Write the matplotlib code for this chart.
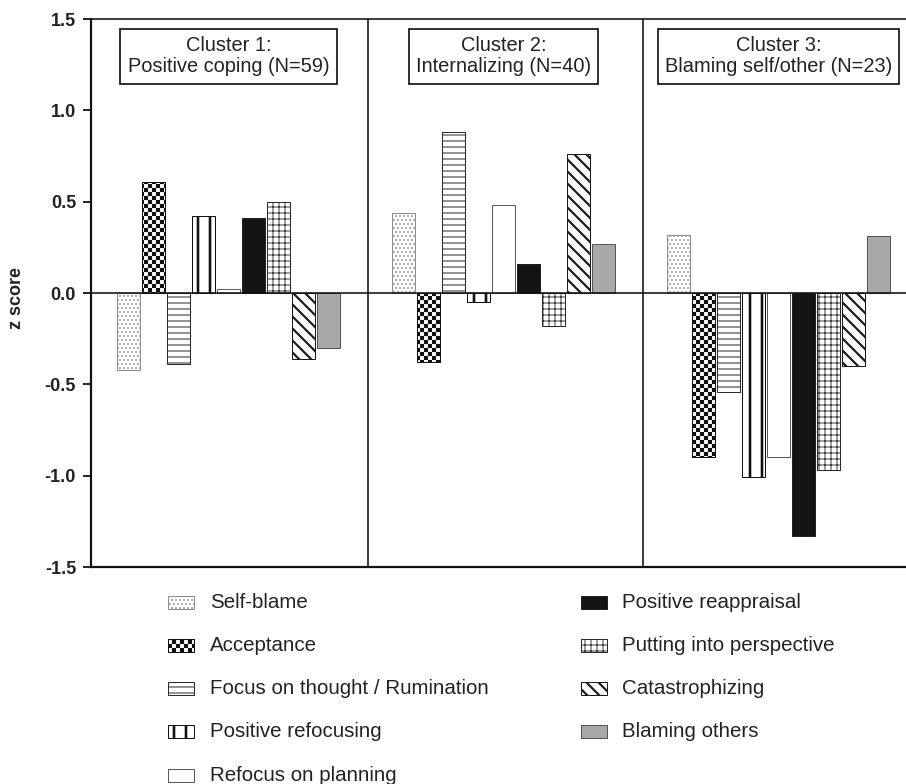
import numpy as np
import matplotlib
matplotlib.use('Agg')
import matplotlib.pyplot as plt
import matplotlib.hatch as mhatch
from matplotlib.path import Path
from matplotlib.patches import Rectangle

plt.rcParams['font.family'] = ['Liberation Sans', 'DejaVu Sans']
plt.rcParams['hatch.linewidth'] = 1.0

# ---------------- data ----------------
cluster_labels = ['Cluster 1:\nPositive coping (N=59)',
                  'Cluster 2:\nInternalizing (N=40)',
                  'Cluster 3:\nBlaming self/other (N=23)']
strategies = ['Self-blame', 'Acceptance', 'Focus on thought / Rumination',
              'Positive refocusing', 'Refocus on planning', 'Positive reappraisal',
              'Putting into perspective', 'Catastrophizing', 'Blaming others']
cluster1 = [-0.42, 0.61, -0.39, 0.42, 0.02, 0.41, 0.50, -0.36, -0.30]
cluster2 = [0.44, -0.38, 0.88, -0.05, 0.48, 0.16, -0.18, 0.76, 0.27]
cluster3 = [0.32, -0.90, -0.54, -1.01, -0.90, -1.33, -0.97, -0.40, 0.31]
yticks = [-1.5, -1.0, -0.5, 0.0, 0.5, 1.0, 1.5]
ylabel = 'z score'

# ---------------- styles ----------------
hatches = ['...', 'O', '--', '|', '', '', '++', '\\\\', '']
faces = ['white', 'white', 'white', 'white', 'white', '#141414', 'white', 'white', '#a8a8a8']
edges = ['#8c8c8c', '#111111', '#2a2a2a', '#111111', '#5a5a5a', '#222222', '#2a2a2a', '#1a1a1a', '#555555']
hatch_lw = [1.0, 0.1, 1.0, 2.6, 1.0, 1.0, 0.9, 2.2, 1.0]


# custom checkerboard hatch for 'O'
class CheckerHatch(mhatch.HatchPatternBase):
    def __init__(self, hatch, density):
        self.n = hatch.count('O') * 18
        self.num_vertices = (self.n * self.n // 2) * 5 if self.n else 0

    def set_vertices_and_codes(self, vertices, codes):
        n = self.n
        s = 1.0 / n
        k = 0
        for i in range(n):
            for j in range(n):
                if (i + j) % 2 == 0:
                    x0, y0 = i * s, j * s
                    vertices[k:k + 5] = [(x0, y0), (x0 + s, y0), (x0 + s, y0 + s),
                                         (x0, y0 + s), (x0, y0)]
                    codes[k] = Path.MOVETO
                    codes[k + 1:k + 4] = Path.LINETO
                    codes[k + 4] = Path.CLOSEPOLY
                    k += 5


try:
    mhatch._hatch_types = [t for t in mhatch._hatch_types
                           if t is not mhatch.LargeCircles] + [CheckerHatch]
except Exception:
    hatches[1] = 'xx'


def style_patch(p, k):
    if hasattr(p, 'set_hatch_linewidth'):
        p.set_hatch_linewidth(hatch_lw[k])


W, H = 906, 784
fig = plt.figure(figsize=(W / 72, H / 72), dpi=72)
ax = fig.add_axes([91 / W, 1 - 567 / H, (W - 91) / W, (567 - 19) / H])

data = [cluster1, cluster2, cluster3]
for ci, vals in enumerate(data):
    xs = [11 * ci + j for j in range(len(vals))]
    bars = ax.bar(xs, vals, width=0.9, zorder=2)
    for k, b in enumerate(bars):
        b.set_facecolor(faces[k])
        b.set_edgecolor(edges[k])
        b.set_linewidth(1.0)
        b.set_hatch(hatches[k])
        style_patch(b, k)
    ax.text(11 * ci + 4, 1.296, cluster_labels[ci], ha='center', va='center',
            fontsize=20, linespacing=1.15, color='#222222', zorder=4,
            bbox=dict(boxstyle='square,pad=0.36', fc='white', ec='#111111', lw=1.7))

ax.axhline(0, color='#111111', lw=1.6, zorder=3)
for xs in (9.58, 20.58):
    ax.axvline(xs, color='#111111', lw=1.6, zorder=3)

ax.set_xlim(-1.5, 31.1)
ax.set_ylim(-1.5, 1.5)
ax.set_xticks([])
ax.set_yticks(yticks)
ax.set_yticklabels(['%.1f' % v for v in yticks], fontsize=18, fontweight='bold',
                   color='#222222')
ax.tick_params(axis='y', direction='out', length=8, width=1.8, pad=7, color='#111111')
ax.set_ylabel(ylabel, fontsize=18, fontweight='bold', color='#222222')
ax.yaxis.set_label_coords(-0.081, 0.49)

ax.spines['right'].set_visible(False)
ax.spines['left'].set_linewidth(2.2)
ax.spines['bottom'].set_linewidth(2.2)
ax.spines['top'].set_linewidth(1.6)
for s in ('left', 'bottom', 'top'):
    ax.spines[s].set_color('#111111')

# ---------------- legend ----------------
col_patch_x = [168, 581]
col_text_x = [210, 622]
row_y0 = 602
row_dy = 43.3
pw, ph = 26, 13
for k, name in enumerate(strategies):
    col = 0 if k < 5 else 1
    row = k if k < 5 else k - 5
    yc = row_y0 + row * row_dy
    r = Rectangle((col_patch_x[col] / W, 1 - (yc + ph / 2) / H), pw / W, ph / H,
                  transform=fig.transFigure, facecolor=faces[k], edgecolor=edges[k],
                  hatch=hatches[k], lw=1.0)
    style_patch(r, k)
    fig.add_artist(r)
    fig.text(col_text_x[col] / W, 1 - yc / H, name, fontsize=20.5, va='center',
             ha='left', color='#222222')

fig.savefig('out.png', dpi=72)
